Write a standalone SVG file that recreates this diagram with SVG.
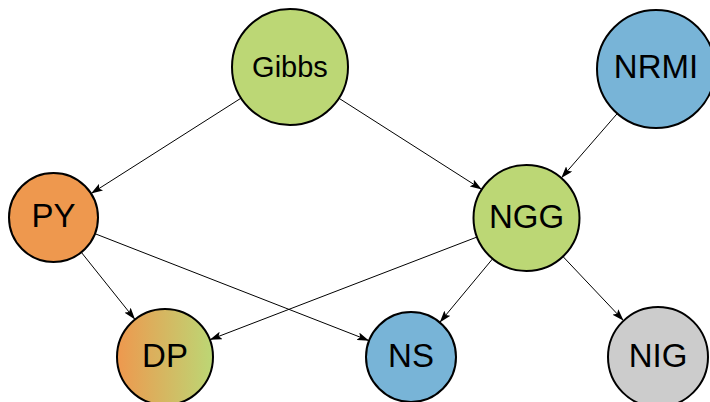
<svg xmlns="http://www.w3.org/2000/svg" width="710" height="402" viewBox="0 0 710 402">
<style>
  .node circle { stroke: #000; stroke-width: 2; }
  .node text { font-family: "Liberation Sans", Arial, sans-serif; font-size: 33px; fill: #000; text-anchor: middle; }
  .node text.small { font-size: 29px; }
  .green { fill: #bcd775; }
  .orange { fill: #ee984e; }
  .blue { fill: #78b4d7; }
  .gray { fill: #cccccc; }
  .edges line { stroke: #000; stroke-width: 1; marker-end: url(#arr); }
</style>
<defs>
  <marker id="arr" viewBox="0 0 12 8" refX="12" refY="4" markerWidth="12" markerHeight="8" markerUnits="userSpaceOnUse" orient="auto">
    <path d="M0,0 L12,4 L0,8 L2.5,4 z" fill="#000"/>
  </marker>
  <linearGradient id="dpgrad" x1="0" y1="0" x2="1" y2="0">
    <stop offset="0" stop-color="#ee984e"/>
    <stop offset="1" stop-color="#bcd775"/>
  </linearGradient>
</defs>
<rect width="710" height="402" fill="#fff"/>
<g id="edges" class="edges">
  <line x1="241.06" y1="98.14" x2="91.05" y2="193.61"/>
  <line x1="338.88" y1="98.21" x2="481.83" y2="189.48"/>
  <line x1="617.30" y1="113.53" x2="561.27" y2="178.0"/>
  <line x1="81.28" y1="252.26" x2="135.03" y2="319.51"/>
  <line x1="94.95" y1="233.68" x2="369.08" y2="340.64"/>
  <line x1="477.03" y1="237.02" x2="209.80" y2="339.77"/>
  <line x1="492.62" y1="258.77" x2="439.76" y2="322.39"/>
  <line x1="562.93" y1="256.51" x2="623.63" y2="320.67"/>
</g>
<g id="Gibbs" class="node">
  <circle class="green" cx="290" cy="67" r="58"/>
  <text class="small" x="290" y="77">Gibbs</text>
</g>
<g id="NRMI" class="node">
  <circle class="blue" cx="656" cy="69" r="59"/>
  <text x="656" y="77.5">NRMI</text>
</g>
<g id="PY" class="node">
  <circle class="orange" cx="53.5" cy="217.5" r="44.5"/>
  <text x="53.5" y="227">PY</text>
</g>
<g id="NGG" class="node">
  <circle class="green" cx="526.5" cy="218" r="53"/>
  <text x="526.5" y="227.5">NGG</text>
</g>
<g id="DP" class="node">
  <circle fill="url(#dpgrad)" cx="165" cy="357" r="48"/>
  <text x="165" y="366.5">DP</text>
</g>
<g id="NS" class="node">
  <circle class="blue" cx="411" cy="357" r="45"/>
  <text x="411" y="366.5">NS</text>
</g>
<g id="NIG" class="node">
  <circle class="gray" cx="658" cy="357" r="50"/>
  <text x="658" y="366.5">NIG</text>
</g>
</svg>
